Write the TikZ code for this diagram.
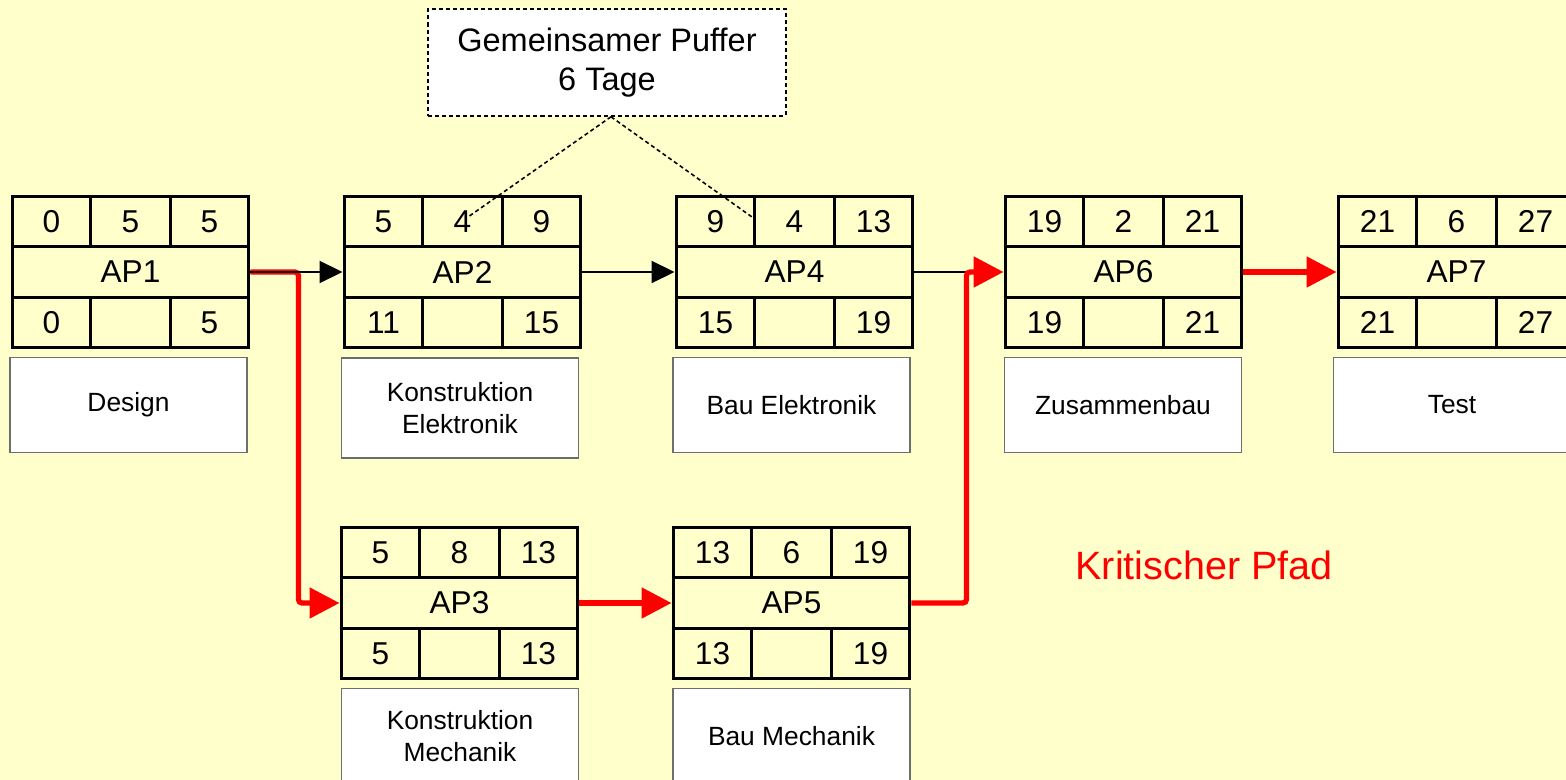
\documentclass[tikz,border=0pt]{standalone}
\usepackage{fontspec}
\setmainfont{Liberation Sans}
\usetikzlibrary{calc,arrows.meta}
\definecolor{bgy}{HTML}{FFFFCC}
\definecolor{descborder}{HTML}{6E6E6E}
\tikzset{
  apbox/.style={draw, line width=1.7pt, minimum width=4.74cm, minimum height=3.04cm, inner sep=0pt},
  apline/.style={line width=1.7pt},
  numtxt/.style={font=\fontsize{18}{21}\selectfont, inner sep=0pt},
  desc/.style={draw=descborder, fill=white, line width=0.8pt, minimum width=4.74cm, minimum height=1.9cm,
    align=center, font=\fontsize{15}{18}\selectfont},
  blackarrow/.style={line width=1.1pt, -{Triangle[length=0.46cm,width=0.44cm]}},
  blackline/.style={line width=1.1pt},
  critical/.style={draw=red, line width=3pt, rounded corners=2pt, -{Triangle[length=0.6cm,width=0.6cm]}},
  bufferline/.style={line width=0.9pt, dash pattern=on 2.3pt off 1.7pt},
  bufferbox/.style={draw, fill=white, line width=0.9pt, dash pattern=on 2.3pt off 1.7pt,
    minimum width=7.16cm, minimum height=2.14cm, align=center, font=\fontsize{18.5}{22.5}\selectfont},
}
\newcommand\APbox[9]{%
  \node[apbox] (#1) at (#2,#3) {};
  \draw[apline] ($(#1.north west)!1/3!(#1.south west)$) -- ($(#1.north east)!1/3!(#1.south east)$);
  \draw[apline] ($(#1.north west)!2/3!(#1.south west)$) -- ($(#1.north east)!2/3!(#1.south east)$);
  \draw[apline] ($(#1.north west)!1/3!(#1.north east)$) -- ++(0,50.67);
  \draw[apline] ($(#1.north west)!2/3!(#1.north east)$) -- ++(0,50.67);
  \draw[apline] ($(#1.south west)!1/3!(#1.south east)$) -- ++(0,-50.67);
  \draw[apline] ($(#1.south west)!2/3!(#1.south east)$) -- ++(0,-50.67);
  \node[numtxt] (#1-es) at ($(#1.center)+(-79,-50.67)$) {#4};
  \node[numtxt] (#1-d)  at ($(#1.center)+(0,-50.67)$) {#5};
  \node[numtxt] (#1-ef) at ($(#1.center)+(79,-50.67)$) {#6};
  \node[numtxt] (#1-lab) at (#1.center) {#7};
  \node[numtxt] (#1-ls) at ($(#1.center)+(-79,50.67)$) {#8};
  \node[numtxt] (#1-lf) at ($(#1.center)+(79,50.67)$) {#9};
}
\begin{document}
\begin{tikzpicture}[x=0.02cm, y=-0.02cm]
\useasboundingbox (0,0) rectangle (1566,780);
\clip (0,0) rectangle (1566,780);
\fill[bgy] (0,0) rectangle (1566,780);

% description boxes
\node[desc] (d1) at (128.5,405) {Design};
\node[desc, minimum height=2cm] (d2) at (460,408) {Konstruktion\\Elektronik};
\node[desc] (d4) at (791.5,405) {Bau Elektronik};
\node[desc] (d6) at (1123,405) {Zusammenbau};
\node[desc] (d7) at (1452,405) {Test};
\node[desc] (d3) at (460,736) {Konstruktion\\Mechanik};
\node[desc] (d5) at (791.5,736) {Bau Mechanik};

% activity boxes
\APbox{ap1}{130.5}{272}{0}{5}{5}{AP1}{0}{5}
\APbox{ap2}{462.5}{272}{5}{4}{9}{AP2}{11}{15}
\APbox{ap4}{794.5}{272}{9}{4}{13}{AP4}{15}{19}
\APbox{ap6}{1123.5}{272}{19}{2}{21}{AP6}{19}{21}
\APbox{ap7}{1456.5}{272}{21}{6}{27}{AP7}{21}{27}
\APbox{ap3}{459.5}{603}{5}{8}{13}{AP3}{5}{13}
\APbox{ap5}{791.5}{603}{13}{6}{19}{AP5}{13}{19}

% connectors
\coordinate (j1) at ($(ap1.east)+(48,0)$);
\coordinate (j2) at ($(ap4.east)+(52,0)$);
\draw[critical] (ap1.east) -- (j1) |- (ap3.west);
\draw[blackarrow] (ap1.east) -- (ap2.west);
\draw[blackarrow] (ap2.east) -- (ap4.west);
\draw[blackline] (ap4.east) -- (j2);
\draw[critical] (ap3.east) -- (ap5.west);
\draw[critical] (ap5.east) -| (j2) -- (ap6.west);
\draw[critical] (ap6.east) -- (ap7.west);

% common buffer
\node[bufferbox] (buf) at (607,62.5) {Gemeinsamer Puffer\\6 Tage};
\coordinate (bA) at (468,217);
\coordinate (bB) at (752,217);
\draw[bufferline] ($(buf.south)+(4,0)$) -- (bA);
\draw[bufferline] ($(buf.south)+(4,0)$) -- (bB);

% legend
\node[text=red, font=\fontsize{22.5}{26}\selectfont] (crit) at (1204,565) {Kritischer Pfad};
\end{tikzpicture}
\end{document}
